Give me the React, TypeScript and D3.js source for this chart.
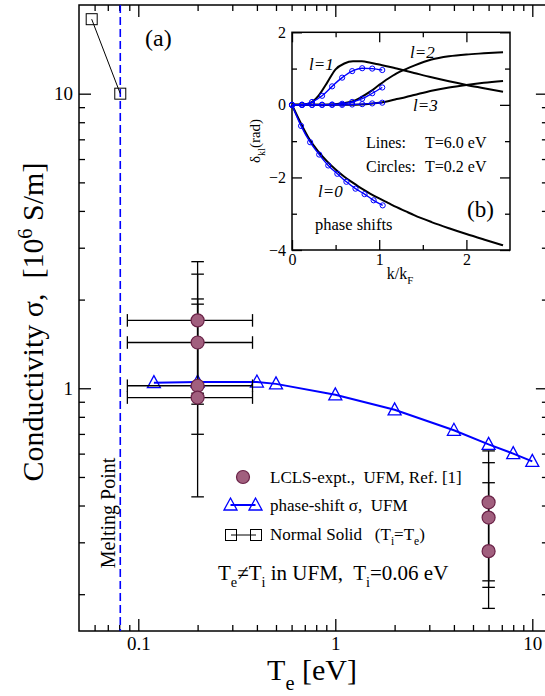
import React, { useRef, useEffect } from "react";
import * as d3 from "d3";

// ---- panel (a): conductivity vs electron temperature ----
const meltingT = 0.081;

const normalSolidT = [0.058, 0.081];
const normalSolidSigma = [17.9, 10];

const phaseShiftT = [0.12, 0.2, 0.4, 0.5, 1, 2, 4, 6, 8, 10];
const phaseShiftSigma = [1.045, 1.05, 1.05, 1.035, 0.95, 0.845, 0.72, 0.645, 0.6, 0.565];

const lclsT = [0.2, 0.2, 0.2, 0.2, 6, 6, 6];
const lclsSigma = [1.7, 1.43, 1.02, 0.93, 0.41, 0.364, 0.28];
const lclsSigmaLow = [0.698, 0.428, 0.962, 0.883, 0.222, 0.211, 0.179];
const lclsSigmaHigh = [2.69, 2.44, 2.01, 1.93, 0.613, 0.559, 0.478];
const lclsTLow = [0.088, 0.088, 0.088, 0.088, 6, 6, 6];
const lclsTHigh = [0.38, 0.38, 0.38, 0.38, 6, 6, 6];

const xMajor = [0.1, 1, 10];
const xMajorLabels = ["0.1", "1", "10"];
const xMinor = [0.06, 0.07, 0.08, 0.09, 0.2, 0.3, 0.4, 0.5, 0.6, 0.7, 0.8, 0.9, 2, 3, 4, 5, 6, 7, 8, 9];
const yMajor = [1, 10];
const yMajorLabels = ["1", "10"];
const yMinor = [0.2, 0.3, 0.4, 0.5, 0.6, 0.7, 0.8, 0.9, 2, 3, 4, 5, 6, 7, 8, 9];

// ---- panel (b): phase shifts ----
const kLine = [0, 0.1, 0.2, 0.3, 0.4, 0.5, 0.6, 0.7, 0.8, 0.9, 1.0, 1.1, 1.2, 1.3, 1.4, 1.6, 1.8, 2.0, 2.2, 2.42];
const delta0Line = [0, -0.5, -0.95, -1.28, -1.55, -1.78, -1.98, -2.15, -2.31, -2.45, -2.58, -2.7, -2.82, -2.93, -3.04, -3.23, -3.4, -3.56, -3.71, -3.87];
const delta1Line = [0, 0, 0.04, 0.24, 0.6, 0.98, 1.14, 1.2, 1.2, 1.16, 1.11, 1.06, 1.0, 0.94, 0.88, 0.76, 0.65, 0.55, 0.46, 0.36];
const delta2Line = [0, 0, 0, 0, 0.005, 0.02, 0.05, 0.1, 0.22, 0.37, 0.55, 0.72, 0.87, 0.98, 1.08, 1.25, 1.34, 1.39, 1.42, 1.45];
const delta3Line = [0, 0, 0, 0, 0, 0, 0, 0.005, 0.01, 0.03, 0.06, 0.1, 0.16, 0.21, 0.27, 0.39, 0.48, 0.55, 0.61, 0.66];

const kCircle0 = [0, 0.104, 0.208, 0.312, 0.416, 0.52, 0.624, 0.728, 0.832, 0.936, 1.04];
const delta0Circle = [0, -0.58, -1.03, -1.37, -1.67, -1.9, -2.12, -2.31, -2.46, -2.63, -2.77];
const kCircle = [0, 0.115, 0.23, 0.345, 0.46, 0.575, 0.69, 0.805, 0.92, 1.035];
const delta1Circle = [0, 0.005, 0.08, 0.25, 0.51, 0.75, 0.93, 1.01, 1.0, 0.96];
const delta2Circle = [0, 0, 0, 0.005, 0.01, 0.03, 0.08, 0.17, 0.32, 0.48];
const delta3Circle = [0, 0, 0, 0, 0, 0, 0.01, 0.02, 0.04, 0.06];

const kTicksMajor = [0, 1, 2];
const kTicksMinor = [0.5, 1.5];
const dTicksMajor = [-4, -2, 0, 2];
const dTicksMinor = [-3, -1, 1];

const FONT = "'Liberation Serif', 'Times New Roman', serif";
const BLUE = "#0000ff";
const DOT_FILL = "#a15f7e";
const DOT_EDGE = "#6a2247";

// text with sub/superscripts: parts are [string, "sub" | "sup" | ""]
function richText(g, x, y, parts, size, extra = {}) {
  const t = g.append("text").attr("x", x).attr("y", y)
    .attr("font-family", FONT).attr("font-size", size).attr("fill", "#000")
    .attr("xml:space", "preserve").style("white-space", "pre");
  Object.entries(extra).forEach(([k, v]) => t.attr(k, v));
  let shift = 0;
  parts.forEach(([s, kind]) => {
    const target = kind === "sub" ? size * 0.32 : kind === "sup" ? -size * 0.38 : 0;
    t.append("tspan")
      .attr("dy", target - shift)
      .attr("font-size", kind ? size * 0.68 : size)
      .text(s);
    shift = target;
  });
  return t;
}

function triangle(cx, cy) {
  return `M${cx},${cy - 7}L${cx + 6.5},${cy + 5}L${cx - 6.5},${cy + 5}Z`;
}

function App() {
  const svgRef = useRef(null);

  useEffect(() => {
    const svg = d3.select(svgRef.current);
    svg.selectAll("*").remove();

    const left = 79, top = 5, bottom = 631;
    const x = d3.scaleLog().domain([0.05, 12]).range([left, 547.9]);
    const y = d3.scaleLog().domain([0.15, 20]).range([bottom, top]);

    const main = svg.append("g");

    // frame + ticks
    main.append("rect").attr("x", left).attr("y", top)
      .attr("width", x(12) - left).attr("height", bottom - top)
      .attr("fill", "none").attr("stroke", "#000").attr("stroke-width", 1.5);

    const axisStyle = (sel) => {
      sel.select(".domain").remove();
      sel.selectAll("line").attr("stroke-width", 1.3);
      sel.selectAll("text").attr("font-family", FONT).attr("font-size", 19).attr("fill", "#000");
    };
    main.append("g").attr("transform", `translate(0,${bottom})`)
      .call(d3.axisBottom(x).tickValues(xMajor).tickSize(-12).tickPadding(6)
        .tickFormat((d, i) => xMajorLabels[i])).call(axisStyle);
    main.append("g").attr("transform", `translate(0,${bottom})`)
      .call(d3.axisBottom(x).tickValues(xMinor).tickSize(-6).tickFormat(() => "")).call(axisStyle);
    main.append("g").attr("transform", `translate(0,${top})`)
      .call(d3.axisTop(x).tickValues(xMajor).tickSize(-12).tickFormat(() => "")).call(axisStyle);
    main.append("g").attr("transform", `translate(0,${top})`)
      .call(d3.axisTop(x).tickValues(xMinor).tickSize(-6).tickFormat(() => "")).call(axisStyle);
    main.append("g").attr("transform", `translate(${left},0)`)
      .call(d3.axisLeft(y).tickValues(yMajor).tickSize(-12).tickPadding(6)
        .tickFormat((d, i) => yMajorLabels[i])).call(axisStyle);
    main.append("g").attr("transform", `translate(${left},0)`)
      .call(d3.axisLeft(y).tickValues(yMinor).tickSize(-6).tickFormat(() => "")).call(axisStyle);
    main.append("g").attr("transform", `translate(${x(12)},0)`)
      .call(d3.axisRight(y).tickValues(yMajor).tickSize(-12).tickFormat(() => "")).call(axisStyle);
    main.append("g").attr("transform", `translate(${x(12)},0)`)
      .call(d3.axisRight(y).tickValues(yMinor).tickSize(-6).tickFormat(() => "")).call(axisStyle);

    // melting point
    main.append("line").attr("x1", x(meltingT)).attr("x2", x(meltingT))
      .attr("y1", top).attr("y2", bottom)
      .attr("stroke", BLUE).attr("stroke-width", 1.6).attr("stroke-dasharray", "8,4");
    main.append("text")
      .attr("transform", `translate(${x(meltingT) - 5},513) rotate(-90)`)
      .attr("text-anchor", "middle").attr("font-family", FONT).attr("font-size", 20)
      .text("Melting Point");

    // normal solid
    const solid = normalSolidT.map((t, i) => [t, normalSolidSigma[i]]);
    main.append("path").datum(solid)
      .attr("d", d3.line().x((d) => x(d[0])).y((d) => y(d[1])))
      .attr("fill", "none").attr("stroke", "#000").attr("stroke-width", 1);
    main.selectAll(".sq").data(solid).join("rect")
      .attr("x", (d) => x(d[0]) - 5.5).attr("y", (d) => y(d[1]) - 5.5)
      .attr("width", 11).attr("height", 11)
      .attr("fill", "none").attr("stroke", "#000").attr("stroke-width", 1);

    // phase-shift sigma
    const ps = phaseShiftT.map((t, i) => [t, phaseShiftSigma[i]]);
    main.append("path").datum(ps)
      .attr("d", d3.line().x((d) => x(d[0])).y((d) => y(d[1])))
      .attr("fill", "none").attr("stroke", BLUE).attr("stroke-width", 2);
    main.selectAll(".tri").data(ps).join("path")
      .attr("d", (d) => triangle(x(d[0]), y(d[1])))
      .attr("fill", "none").attr("stroke", BLUE).attr("stroke-width", 1.3);

    // LCLS experiment with error bars
    const cap = 6.3;
    lclsT.forEach((t, i) => {
      const cx = x(t), cy = y(lclsSigma[i]);
      const y0 = y(lclsSigmaLow[i]), y1 = y(lclsSigmaHigh[i]);
      const eb = main.append("g").attr("stroke", "#000").attr("stroke-width", 1.3);
      eb.append("line").attr("x1", cx).attr("x2", cx).attr("y1", y0).attr("y2", y1);
      eb.append("line").attr("x1", cx - cap).attr("x2", cx + cap).attr("y1", y0).attr("y2", y0);
      eb.append("line").attr("x1", cx - cap).attr("x2", cx + cap).attr("y1", y1).attr("y2", y1);
      if (lclsTHigh[i] > lclsTLow[i]) {
        const x0 = x(lclsTLow[i]), x1 = x(lclsTHigh[i]);
        eb.append("line").attr("x1", x0).attr("x2", x1).attr("y1", cy).attr("y2", cy);
        eb.append("line").attr("x1", x0).attr("x2", x0).attr("y1", cy - cap).attr("y2", cy + cap);
        eb.append("line").attr("x1", x1).attr("x2", x1).attr("y1", cy - cap).attr("y2", cy + cap);
      }
    });
    main.selectAll(".lcls").data(lclsT).join("circle")
      .attr("cx", (d) => x(d)).attr("cy", (d, i) => y(lclsSigma[i])).attr("r", 6.5)
      .attr("fill", DOT_FILL).attr("stroke", DOT_EDGE).attr("stroke-width", 1.2);

    // legend
    const leg = main.append("g");
    leg.append("circle").attr("cx", 243).attr("cy", 477).attr("r", 6.5)
      .attr("fill", DOT_FILL).attr("stroke", DOT_EDGE).attr("stroke-width", 1.2);
    richText(leg, 270, 483, [["LCLS-expt.,  UFM, Ref. [1]", ""]], 17);
    leg.append("line").attr("x1", 230.5).attr("x2", 255.5).attr("y1", 505).attr("y2", 505)
      .attr("stroke", BLUE).attr("stroke-width", 2);
    [230.5, 255.5].forEach((cx) => leg.append("path").attr("d", triangle(cx, 505))
      .attr("fill", "none").attr("stroke", BLUE).attr("stroke-width", 1.3));
    richText(leg, 270, 511, [["phase-shift σ,  UFM", ""]], 17);
    leg.append("line").attr("x1", 231).attr("x2", 256).attr("y1", 535).attr("y2", 535)
      .attr("stroke", "#000").attr("stroke-width", 1);
    [231, 256].forEach((cx) => leg.append("rect").attr("x", cx - 5.5).attr("y", 529.5)
      .attr("width", 11).attr("height", 11).attr("fill", "none").attr("stroke", "#000"));
    richText(leg, 270, 540, [["Normal Solid   (T", ""], ["i", "sub"], ["=T", ""], ["e", "sub"], [")", ""]], 17);
    richText(main, 218, 580, [["T", ""], ["e", "sub"], ["≠T", ""], ["i", "sub"], [" in UFM,  T", ""], ["i", "sub"], ["=0.06 eV", ""]], 21);

    richText(main, 145, 46, [["(a)", ""]], 24);

    // axis titles
    richText(main, 312, 680, [["T", ""], ["e", "sub"], [" [eV]", ""]], 30, { "text-anchor": "middle" });
    richText(main, 0, 0, [["Conductivity σ,  [10", ""], ["6", "sup"], [" S/m]", ""]], 30,
      { transform: "translate(43,322) rotate(-90)", "text-anchor": "middle" });

    // ---- inset (b) ----
    const ix = d3.scaleLinear().domain([0, 2.5]).range([292, 510]);
    const iy = d3.scaleLinear().domain([-4, 2]).range([250, 32.3]);
    const ins = svg.append("g");
    ins.append("rect").attr("x", ix(0)).attr("y", iy(2))
      .attr("width", ix(2.5) - ix(0)).attr("height", iy(-4) - iy(2))
      .attr("fill", "#fff").attr("stroke", "#000").attr("stroke-width", 1.5);

    const inAxis = (sel) => {
      sel.select(".domain").remove();
      sel.selectAll("line").attr("stroke-width", 1.3);
      sel.selectAll("text").attr("font-family", FONT).attr("font-size", 16).attr("fill", "#000");
    };
    ins.append("g").attr("transform", `translate(0,${iy(-4)})`)
      .call(d3.axisBottom(ix).tickValues(kTicksMajor).tickSize(-10).tickPadding(4).tickFormat(d3.format("d"))).call(inAxis);
    ins.append("g").attr("transform", `translate(0,${iy(-4)})`)
      .call(d3.axisBottom(ix).tickValues(kTicksMinor).tickSize(-5).tickFormat(() => "")).call(inAxis);
    ins.append("g").attr("transform", `translate(0,${iy(2)})`)
      .call(d3.axisTop(ix).tickValues(kTicksMajor).tickSize(-10).tickFormat(() => "")).call(inAxis);
    ins.append("g").attr("transform", `translate(0,${iy(2)})`)
      .call(d3.axisTop(ix).tickValues(kTicksMinor).tickSize(-5).tickFormat(() => "")).call(inAxis);
    ins.append("g").attr("transform", `translate(${ix(0)},0)`)
      .call(d3.axisLeft(iy).tickValues(dTicksMajor).tickSize(-10).tickPadding(6).tickFormat(d3.format("d"))).call(inAxis);
    ins.append("g").attr("transform", `translate(${ix(0)},0)`)
      .call(d3.axisLeft(iy).tickValues(dTicksMinor).tickSize(-5).tickFormat(() => "")).call(inAxis);
    ins.append("g").attr("transform", `translate(${ix(2.5)},0)`)
      .call(d3.axisRight(iy).tickValues(dTicksMajor).tickSize(-10).tickFormat(() => "")).call(inAxis);
    ins.append("g").attr("transform", `translate(${ix(2.5)},0)`)
      .call(d3.axisRight(iy).tickValues(dTicksMinor).tickSize(-5).tickFormat(() => "")).call(inAxis);

    const iline = d3.line().x((d) => ix(d[0])).y((d) => iy(d[1])).curve(d3.curveMonotoneX);
    [delta0Line, delta1Line, delta2Line, delta3Line].forEach((vals) => {
      ins.append("path").datum(kLine.map((k, i) => [k, vals[i]]))
        .attr("d", iline).attr("fill", "none").attr("stroke", "#000").attr("stroke-width", 2);
    });
    const circleSets = [
      [kCircle0, delta0Circle],
      [kCircle, delta1Circle],
      [kCircle, delta2Circle],
      [kCircle, delta3Circle],
    ];
    circleSets.forEach(([ks, vals]) => {
      const pts = ks.map((k, i) => [k, vals[i]]);
      ins.append("path").datum(pts).attr("d", iline)
        .attr("fill", "none").attr("stroke", BLUE).attr("stroke-width", 1.4);
      ins.append("g").selectAll("circle").data(pts).join("circle")
        .attr("cx", (d) => ix(d[0])).attr("cy", (d) => iy(d[1])).attr("r", 2.6)
        .attr("fill", "none").attr("stroke", BLUE).attr("stroke-width", 1);
    });

    const it = { "font-style": "italic" };
    richText(ins, 309, 70, [["l=1", ""]], 17, it);
    richText(ins, 410, 58, [["l=2", ""]], 17, it);
    richText(ins, 413, 111, [["l=3", ""]], 17, it);
    richText(ins, 318, 197, [["l=0", ""]], 17, it);
    richText(ins, 366, 148, [["Lines:", ""]], 16);
    richText(ins, 425, 148, [["T=6.0 eV", ""]], 16);
    richText(ins, 366, 172, [["Circles:", ""]], 16);
    richText(ins, 425, 172, [["T=0.2 eV", ""]], 16);
    richText(ins, 315, 230, [["phase shifts", ""]], 16.5);
    richText(ins, 467, 217, [["(b)", ""]], 23);
    richText(ins, 400, 279, [["k/k", ""], ["F", "sub"]], 16, { "text-anchor": "middle" });
    richText(ins, 0, 0, [["δ", ""], ["kl", "sub"], ["(rad)", ""]], 15,
      { transform: "translate(260,141) rotate(-90)", "text-anchor": "middle" });
  }, []);

  return (
    <svg ref={svgRef} width={545} height={696}
      style={{ position: "absolute", left: 0, top: 0, background: "#fff" }}></svg>
  );
}

export default App;
